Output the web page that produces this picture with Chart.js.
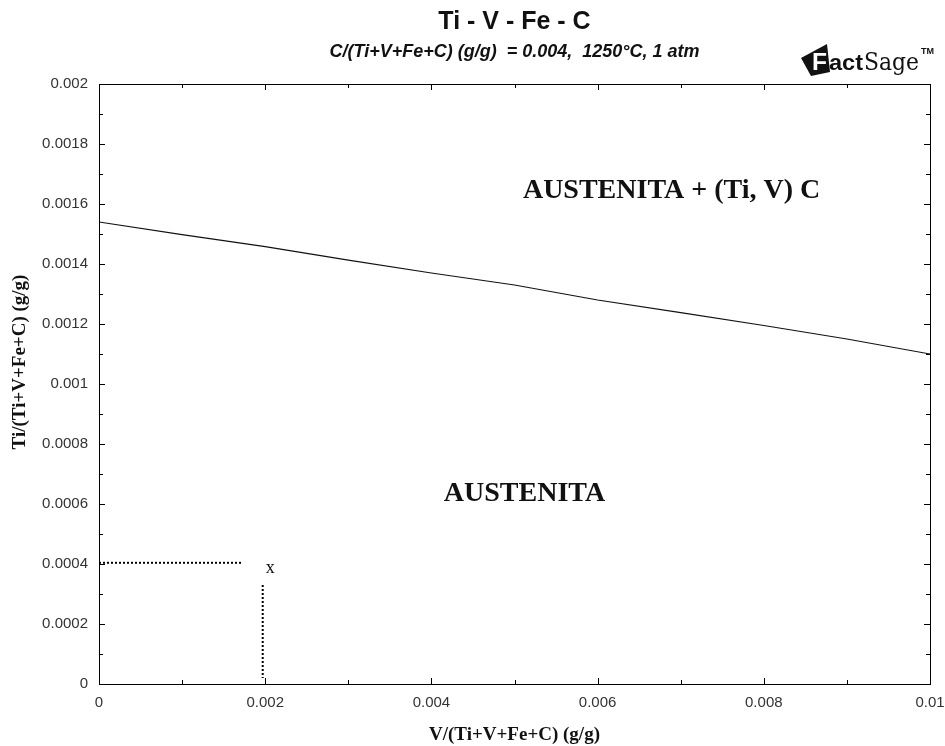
<!DOCTYPE html>
<html>
<head>
<meta charset="utf-8">
<script src="https://cdn.jsdelivr.net/npm/chart.js@4/dist/chart.umd.min.js"></script>
<style>html,body{margin:0;background:#fff}</style>
</head>
<body>
<canvas id="c" width="945" height="746"></canvas>
<script>
// phase boundary
const vFrac = [0, 0.001, 0.002, 0.003, 0.004, 0.005, 0.006, 0.007, 0.008, 0.009, 0.01];
const tiFrac = [0.00154, 0.001498, 0.001458, 0.001413, 0.00137, 0.00133, 0.00128, 0.001238, 0.001195, 0.00115, 0.0011];
// dotted guide lines to the point "x"
const guideHx = [0, 0.00172];
const guideHy = [0.000404, 0.000404];
const guideVx = [0.00197, 0.00197];
const guideVy = [0.00033, 0.00002];
const xTicks = [0, 0.002, 0.004, 0.006, 0.008, 0.01];
const yTicks = [0, 0.0002, 0.0004, 0.0006, 0.0008, 0.001, 0.0012, 0.0014, 0.0016, 0.0018, 0.002];
const xMinor = [0.001, 0.003, 0.005, 0.007, 0.009];
const yMinor = [0.0001, 0.0003, 0.0005, 0.0007, 0.0009, 0.0011, 0.0013, 0.0015, 0.0017, 0.0019];
const regionLabels = [
  { text: "AUSTENITA + (Ti, V) C", x: 0.00689, y: 0.00162 },
  { text: "AUSTENITA", x: 0.00512, y: 0.00061 }
];
const pointLabel = { text: "x", x: 0.00206, y: 0.00037 };

const fmt = v => String(Number(v.toFixed(5)));
const pts = (xs, ys) => xs.map((x, i) => ({ x: x, y: ys[i] }));

// draw text squeezed/stretched to a given width
function fitText(ctx, text, x, y, w) {
  const m = ctx.measureText(text).width;
  ctx.save();
  ctx.translate(x, y);
  ctx.scale(w / m, 1);
  ctx.fillText(text, 0, 0);
  ctx.restore();
}

const decor = {
  id: 'decor',
  afterDatasetsDraw(chart) {
    const ctx = chart.ctx, a = chart.chartArea;
    const sx = chart.scales.x, sy = chart.scales.y;
    ctx.save();
    ctx.strokeStyle = '#000';
    ctx.lineWidth = 1;
    ctx.strokeRect(Math.round(a.left) + 0.5, Math.round(a.top) + 0.5, Math.round(a.right - a.left), Math.round(a.bottom - a.top));
    ctx.beginPath();
    const tickX = (vals, len) => {
      vals.forEach(v => {
        const px = Math.round(sx.getPixelForValue(v)) + 0.5;
        ctx.moveTo(px, a.bottom); ctx.lineTo(px, a.bottom - len);
        ctx.moveTo(px, a.top); ctx.lineTo(px, a.top + len);
      });
    };
    const tickY = (vals, len) => {
      vals.forEach(v => {
        const py = Math.round(sy.getPixelForValue(v)) + 0.5;
        ctx.moveTo(a.left, py); ctx.lineTo(a.left + len, py);
        ctx.moveTo(a.right, py); ctx.lineTo(a.right - len, py);
      });
    };
    tickX(xTicks, 6); tickX(xMinor, 4);
    tickY(yTicks, 6); tickY(yMinor, 4);
    ctx.stroke();

    ctx.fillStyle = '#111';
    ctx.textAlign = 'center';
    ctx.textBaseline = 'alphabetic';
    const cx = (a.left + a.right) / 2;
    ctx.font = 'bold 25px "Liberation Sans", Arial, sans-serif';
    ctx.fillText('Ti - V - Fe - C', cx, 29);
    ctx.font = 'italic bold 18px "Liberation Sans", Arial, sans-serif';
    ctx.fillText('C/(Ti+V+Fe+C) (g/g)  = 0.004,  1250°C, 1 atm', cx, 57);

    ctx.font = 'bold 28px "Liberation Serif", "Times New Roman", serif';
    regionLabels.forEach(l => ctx.fillText(l.text, sx.getPixelForValue(l.x), sy.getPixelForValue(l.y)));
    ctx.font = '18px "Liberation Serif", "Times New Roman", serif';
    ctx.fillText(pointLabel.text, sx.getPixelForValue(pointLabel.x), sy.getPixelForValue(pointLabel.y));

    ctx.font = 'bold 19px "Liberation Serif", "Times New Roman", serif';
    ctx.fillText('V/(Ti+V+Fe+C) (g/g)', cx, 740);
    ctx.save();
    ctx.translate(25, 362);
    ctx.rotate(-Math.PI / 2);
    ctx.fillText('Ti/(Ti+V+Fe+C) (g/g)', 0, 0);
    ctx.restore();

    // FactSage logo
    ctx.beginPath();
    ctx.moveTo(801, 58); ctx.lineTo(827, 44); ctx.lineTo(830, 72); ctx.lineTo(811, 76);
    ctx.closePath();
    ctx.fill();
    ctx.textAlign = 'left';
    ctx.fillStyle = '#fff';
    ctx.font = 'bold 24px "Liberation Sans", Arial, sans-serif';
    fitText(ctx, 'F', 812, 70, 15);
    ctx.fillStyle = '#111';
    ctx.font = 'bold 22px "Liberation Sans", Arial, sans-serif';
    fitText(ctx, 'act', 829, 70, 34);
    ctx.font = '24px "DejaVu Serif", "Liberation Serif", serif';
    fitText(ctx, 'Sage', 864, 70, 55);
    ctx.font = 'bold 9px "Liberation Sans", Arial, sans-serif';
    ctx.fillText('TM', 921, 54);
    ctx.restore();
  }
};

new Chart(document.getElementById('c'), {
  type: 'scatter',
  data: {
    datasets: [
      { data: pts(vFrac, tiFrac), showLine: true, borderColor: '#111', borderWidth: 1.2, pointRadius: 0, tension: 0 },
      { data: pts(guideHx, guideHy), showLine: true, borderColor: '#000', borderWidth: 2, borderDash: [2, 2], pointRadius: 0 },
      { data: pts(guideVx, guideVy), showLine: true, borderColor: '#000', borderWidth: 2, borderDash: [2, 2], pointRadius: 0 }
    ]
  },
  options: {
    responsive: false,
    animation: false,
    layout: { padding: { top: 84, right: 15, left: 0, bottom: 0 } },
    plugins: { legend: { display: false }, tooltip: { enabled: false } },
    scales: {
      x: {
        type: 'linear', min: 0, max: 0.01,
        afterBuildTicks: s => { s.ticks = xTicks.map(v => ({ value: v })); },
        afterFit: s => { s.height = 62; s.paddingLeft = 0; s.paddingRight = 0; },
        grid: { display: false, drawTicks: false }, border: { display: false },
        ticks: { callback: fmt, padding: 10, maxRotation: 0, autoSkip: false, color: '#333', font: { family: '"Liberation Sans", Arial, sans-serif', size: 15 } }
      },
      y: {
        type: 'linear', min: 0, max: 0.002,
        afterBuildTicks: s => { s.ticks = yTicks.map(v => ({ value: v })); },
        afterFit: s => { s.width = 99; s.paddingTop = 0; s.paddingBottom = 0; },
        grid: { display: false, drawTicks: false }, border: { display: false },
        ticks: { callback: fmt, padding: 11, autoSkip: false, color: '#333', font: { family: '"Liberation Sans", Arial, sans-serif', size: 15 } }
      }
    }
  },
  plugins: [decor]
});
</script>
</body>
</html>
